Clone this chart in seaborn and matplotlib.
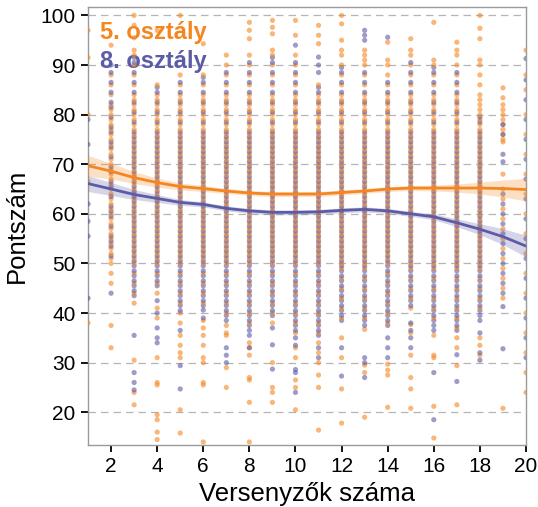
import matplotlib
matplotlib.use("Agg")
import matplotlib.pyplot as plt
import numpy as np
import pandas as pd
import seaborn as sns

# Number of competitors (x categories)
competitors = [1, 2, 3, 4, 5, 6, 7, 8, 9, 10, 11, 12, 13, 14, 15, 16, 17, 18, 19, 20]

# Scores of 5th graders, one list per number of competitors
grade5_scores = [
    [38, 66.5, 80, 91.5, 97],
    [33, 37.5, 46, 48, 50, 51, 52, 53, 54, 55, 56, 57, 58, 59, 60, 61, 62, 63, 64, 65, 66, 67, 68, 69, 70, 71, 72, 73, 74, 75, 76, 77, 78, 79, 80, 81, 82, 84, 86, 88, 94],
    [21.5, 24, 30.5, 42, 44, 46, 48, 50, 51, 52, 53, 54, 55, 56, 57, 58, 59, 60, 61, 62, 63, 64, 65, 66, 67, 68, 69, 70, 71, 72, 73, 74, 75, 76, 77, 78, 79, 80, 81, 82, 83, 84, 86, 88, 90, 92, 93, 95.5, 98, 100],
    [14.5, 16, 18.5, 19.5, 25.5, 26, 31, 39, 41, 44, 46, 48, 50, 51, 52, 53, 54, 55, 56, 57, 58, 59, 60, 61, 62, 63, 64, 65, 66, 67, 68, 69, 70, 71, 72, 73, 74, 75, 76, 77, 78, 79, 80, 81, 82, 83, 84, 86, 97],
    [15.8, 20.5, 31, 32, 33.5, 35.5, 38, 40, 42, 44, 46, 48, 50, 51, 52, 53, 54, 55, 56, 57, 58, 59, 60, 61, 62, 63, 64, 65, 66, 67, 68, 69, 70, 71, 72, 73, 74, 75, 76, 77, 78, 79, 80, 81, 82, 83, 84, 86, 88, 100],
    [14, 25.5, 26, 30, 31, 33.5, 35.5, 37, 38.5, 42, 44, 46, 48, 50, 51, 52, 53, 54, 55, 56, 57, 58, 59, 60, 61, 62, 63, 64, 65, 66, 67, 68, 69, 70, 71, 72, 73, 74, 75, 76, 77, 78, 79, 80, 81, 82, 83, 84, 86, 88, 94.3],
    [25, 29, 35.5, 36, 37.5, 40, 42, 44, 46, 48, 50, 51, 52, 53, 54, 55, 56, 57, 58, 59, 60, 61, 62, 63, 64, 65, 66, 67, 68, 69, 70, 71, 72, 73, 74, 75, 76, 77, 78, 79, 80, 81, 82, 83, 84, 86, 88, 90, 92],
    [14, 22, 26.5, 27, 31.5, 33, 34, 38, 40, 42, 44, 46, 48, 50, 51, 52, 53, 54, 55, 56, 57, 58, 59, 60, 61, 62, 63, 64, 65, 66, 67, 68, 69, 70, 71, 72, 73, 74, 75, 76, 77, 78, 79, 80, 81, 82, 83, 84, 86, 88, 90, 92, 95.3, 97, 98.6],
    [22, 24, 25, 30, 38, 40, 42, 44, 46, 48, 50, 51, 52, 53, 54, 55, 56, 57, 58, 59, 60, 61, 62, 63, 64, 65, 66, 67, 68, 69, 70, 71, 72, 73, 74, 75, 76, 77, 78, 79, 80, 81, 82, 83, 84, 86, 88, 90, 92, 93, 96.3, 97.6, 99],
    [20.5, 25, 26.5, 31, 33, 36, 38, 40, 42, 44, 46, 48, 50, 51, 52, 53, 54, 55, 56, 57, 58, 59, 60, 61, 62, 63, 64, 65, 66, 67, 68, 69, 70, 71, 72, 73, 74, 75, 76, 77, 78, 79, 80, 81, 82, 83, 84, 86, 88, 90, 92, 96, 99],
    [16.4, 25, 27.5, 30, 32, 34, 36, 38, 40, 42, 44, 46, 48, 50, 51, 52, 53, 54, 55, 56, 57, 58, 59, 60, 61, 62, 63, 64, 65, 66, 67, 68, 69, 70, 71, 72, 73, 74, 75, 76, 77, 78, 79, 80, 81, 82, 83, 84, 86, 94.3, 96, 98],
    [17.8, 24.7, 31, 35, 39, 41, 43, 45, 47, 49, 50, 51, 52, 53, 54, 55, 56, 57, 58, 59, 60, 61, 62, 63, 64, 65, 66, 67, 68, 69, 70, 71, 72, 73, 74, 75, 76, 77, 78, 79, 80, 81, 82, 83, 84, 86, 88, 90, 92, 93, 95, 98.3, 100],
    [19, 28, 29.5, 36.7, 39, 41, 43, 45, 47, 49, 50, 51, 52, 53, 54, 55, 56, 57, 58, 59, 60, 61, 62, 63, 64, 65, 66, 67, 68, 69, 70, 71, 72, 73, 74, 75, 76, 77, 78, 79, 80, 81, 82, 83, 84, 86, 88, 90, 91, 92, 93],
    [21, 27.5, 28.5, 29.7, 38, 40, 42, 44, 46, 48, 50, 51, 52, 53, 54, 55, 56, 57, 58, 59, 60, 61, 62, 63, 64, 65, 66, 67, 68, 69, 70, 71, 72, 73, 74, 75, 76, 77, 78, 79, 80, 81, 82, 83, 84, 86, 88, 90, 91, 94.6],
    [20.8, 24.7, 27, 31.5, 36, 37.7, 41, 43, 45, 47, 49, 50, 51, 52, 53, 54, 55, 56, 57, 58, 59, 60, 61, 62, 63, 64, 65, 66, 67, 68, 69, 70, 71, 72, 73, 74, 75, 76, 77, 78, 79, 80, 81, 82, 83, 84, 86, 88, 90, 92, 93, 95.3],
    [14.8, 21.2, 31, 31.5, 35.5, 39, 41, 43, 45, 47, 49, 50, 51, 52, 53, 54, 55, 56, 57, 58, 59, 60, 61, 62, 63, 64, 65, 66, 67, 68, 69, 70, 71, 72, 73, 74, 75, 76, 77, 78, 79, 80, 81, 82, 83, 84, 86, 88, 90, 91, 98.6],
    [21.5, 29.4, 33, 35, 37, 39, 41, 43, 45, 47, 49, 50, 51, 52, 53, 54, 55, 56, 57, 58, 59, 60, 61, 62, 63, 64, 65, 66, 67, 68, 69, 70, 71, 72, 73, 74, 75, 76, 77, 78, 79, 80, 81, 82, 83, 84, 86, 88, 90, 92, 93, 94.6],
    [31.5, 33.5, 35, 41, 43, 45, 47, 49, 50, 51, 52, 53, 54, 55, 56, 57, 58, 59, 60, 61, 62, 63, 64, 65, 66, 67, 68, 69, 70, 71, 72, 73, 74, 75, 76, 77, 78, 79, 80, 81, 82, 83, 84, 86, 88, 90, 91, 95.3, 97.4, 100],
    [20.8, 43, 45, 47, 49, 51, 53, 55, 57, 59, 61, 63, 65, 68, 74.5, 75, 76, 77, 78, 79, 80, 81, 82, 83.4, 85.4],
    [24, 28, 32, 36, 40, 44, 48, 52, 56, 60, 64, 68, 72, 76, 80, 85, 88, 93],
]

# Scores of 8th graders, one list per number of competitors
grade8_scores = [
    [43, 55.5, 58.5, 62, 74, 79],
    [44, 51.5, 53.5, 54.5, 55.5, 57.5, 59.5, 60.5, 61.5, 63.5, 65.5, 66.5, 68.5, 69.5, 71.5, 73.5, 74.5, 76.5, 77.5, 79.5, 81.5, 82.5, 84.5, 86.5, 88.5, 90],
    [24.5, 26, 28, 35.5, 43.5, 44.5, 45.5, 46.5, 47.5, 48.5, 49.5, 50.5, 51.5, 52.5, 53.5, 54.5, 55.5, 56.5, 57.5, 58.5, 59.5, 60.5, 61.5, 62.5, 63.5, 64.5, 65.5, 66.5, 67.5, 68.5, 69.5, 70.5, 71.5, 72.5, 73.5, 74.5, 75.5, 76.5, 78.5, 80.5, 82.5, 84.5, 86.5, 88.5, 90.5, 91.5],
    [34, 35, 37, 40, 42.5, 45.5, 46.5, 47.5, 48.5, 49.5, 50.5, 51.5, 52.5, 53.5, 54.5, 55.5, 56.5, 57.5, 58.5, 59.5, 60.5, 61.5, 62.5, 63.5, 64.5, 65.5, 66.5, 67.5, 68.5, 69.5, 70.5, 71.5, 72.5, 73.5, 74.5, 75.5, 76.5, 78.5, 80.5, 82.5, 84.5, 85.5],
    [24.7, 29.4, 36.5, 40.5, 41.5, 42.5, 43.5, 44.5, 45.5, 46.5, 47.5, 48.5, 49.5, 50.5, 51.5, 52.5, 53.5, 54.5, 55.5, 56.5, 57.5, 58.5, 59.5, 60.5, 61.5, 62.5, 63.5, 64.5, 65.5, 66.5, 67.5, 68.5, 69.5, 70.5, 71.5, 72.5, 73.5, 74.5, 75.5, 76.5, 78.5, 80.5, 82.5, 84.5, 86.5],
    [39, 40.6, 41.5, 42.5, 43.5, 44.5, 45.5, 46.5, 47.5, 48.5, 49.5, 50.5, 51.5, 52.5, 53.5, 54.5, 55.5, 56.5, 57.5, 58.5, 59.5, 60.5, 61.5, 62.5, 63.5, 64.5, 65.5, 66.5, 67.5, 68.5, 69.5, 70.5, 71.5, 72.5, 73.5, 74.5, 75.5, 76.5, 78.5, 80.5, 82.5, 84.5, 86.5, 87.5],
    [30, 31.5, 33, 38.5, 39.5, 40.5, 41.5, 42.5, 43.5, 44.5, 45.5, 46.5, 47.5, 48.5, 49.5, 50.5, 51.5, 52.5, 53.5, 54.5, 55.5, 56.5, 57.5, 58.5, 59.5, 60.5, 61.5, 62.5, 63.5, 64.5, 65.5, 66.5, 67.5, 68.5, 69.5, 70.5, 71.5, 72.5, 73.5, 74.5, 75.5, 76.5, 78.5, 80.5, 82.5, 84.5, 86.5, 88.5],
    [33, 35.5, 36.5, 37.5, 38.5, 39.5, 40.5, 41.5, 42.5, 43.5, 44.5, 45.5, 46.5, 47.5, 48.5, 49.5, 50.5, 51.5, 52.5, 53.5, 54.5, 55.5, 56.5, 57.5, 58.5, 59.5, 60.5, 61.5, 62.5, 63.5, 64.5, 65.5, 66.5, 67.5, 68.5, 69.5, 70.5, 71.5, 72.5, 73.5, 74.5, 75.5, 76.5, 78.5, 80.5, 82.5, 84.5, 86.5, 88.5, 90.5],
    [28.7, 33.6, 37, 39.5, 40.5, 41.5, 42.5, 43.5, 44.5, 45.5, 46.5, 47.5, 48.5, 49.5, 50.5, 51.5, 52.5, 53.5, 54.5, 55.5, 56.5, 57.5, 58.5, 59.5, 60.5, 61.5, 62.5, 63.5, 64.5, 65.5, 66.5, 67.5, 68.5, 69.5, 70.5, 71.5, 72.5, 73.5, 74.5, 75.5, 76.5, 78.5, 80.5, 82.5, 84.5, 86.5, 88.5, 90.5, 91.5],
    [24, 28, 28.6, 33.5, 35, 36.5, 37.5, 38.5, 39.5, 40.5, 41.5, 42.5, 43.5, 44.5, 45.5, 46.5, 47.5, 48.5, 49.5, 50.5, 51.5, 52.5, 53.5, 54.5, 55.5, 56.5, 57.5, 58.5, 59.5, 60.5, 61.5, 62.5, 63.5, 64.5, 65.5, 66.5, 67.5, 68.5, 69.5, 70.5, 71.5, 72.5, 73.5, 74.5, 75.5, 76.5, 78.5, 80.5, 82.5, 84.5, 86.5, 88.5, 90.5, 94],
    [31, 33, 35.5, 36.5, 37.5, 38.5, 39.5, 40.5, 41.5, 42.5, 43.5, 44.5, 45.5, 46.5, 47.5, 48.5, 49.5, 50.5, 51.5, 52.5, 53.5, 54.5, 55.5, 56.5, 57.5, 58.5, 59.5, 60.5, 61.5, 62.5, 63.5, 64.5, 65.5, 66.5, 67.5, 68.5, 69.5, 70.5, 71.5, 72.5, 73.5, 74.5, 75.5, 76.5, 78.5, 80.5, 82.5, 84.5, 85.5, 88.5, 90, 91.6],
    [27.3, 33, 38.5, 39.5, 40.5, 41.5, 42.5, 43.5, 44.5, 45.5, 46.5, 47.5, 48.5, 49.5, 50.5, 51.5, 52.5, 53.5, 54.5, 55.5, 56.5, 57.5, 58.5, 59.5, 60.5, 61.5, 62.5, 63.5, 64.5, 65.5, 66.5, 67.5, 68.5, 69.5, 70.5, 71.5, 72.5, 73.5, 74.5, 75.5, 76.5, 78.5, 80.5, 82.5, 84.5, 86.5, 88.5, 89.5],
    [27, 30, 31, 37.5, 38.5, 39.5, 40.5, 41.5, 42.5, 43.5, 44.5, 45.5, 46.5, 47.5, 48.5, 49.5, 50.5, 51.5, 52.5, 53.5, 54.5, 55.5, 56.5, 57.5, 58.5, 59.5, 60.5, 61.5, 62.5, 63.5, 64.5, 65.5, 66.5, 67.5, 68.5, 69.5, 70.5, 71.5, 72.5, 73.5, 74.5, 75.5, 76.5, 78.5, 80.5, 82.5, 84.5, 86.5, 88.5, 95, 96, 97],
    [31, 33, 35, 37.5, 38.5, 39.5, 40.5, 41.5, 42.5, 43.5, 44.5, 45.5, 46.5, 47.5, 48.5, 49.5, 50.5, 51.5, 52.5, 53.5, 54.5, 55.5, 56.5, 57.5, 58.5, 59.5, 60.5, 61.5, 62.5, 63.5, 64.5, 65.5, 66.5, 67.5, 68.5, 69.5, 70.5, 71.5, 72.5, 73.5, 74.5, 75.5, 76.5, 78.5, 80.5, 82.5, 84.5, 86.5, 95.6],
    [33, 35, 36.5, 38, 41.5, 42.5, 43.5, 44.5, 45.5, 46.5, 47.5, 48.5, 49.5, 50.5, 51.5, 52.5, 53.5, 54.5, 55.5, 56.5, 57.5, 58.5, 59.5, 60.5, 61.5, 62.5, 63.5, 64.5, 65.5, 66.5, 67.5, 68.5, 69.5, 70.5, 71.5, 72.5, 73.5, 74.5, 75.5, 76.5, 78.5, 80.5, 82.5, 84.5, 86.5, 88.5, 90.5],
    [18.5, 28, 36.5, 37.5, 38.5, 39.5, 40.5, 41.5, 42.5, 43.5, 44.5, 45.5, 46.5, 47.5, 48.5, 49.5, 50.5, 51.5, 52.5, 53.5, 54.5, 55.5, 56.5, 57.5, 58.5, 59.5, 60.5, 61.5, 62.5, 63.5, 64.5, 65.5, 66.5, 67.5, 68.5, 69.5, 70.5, 71.5, 72.5, 73.5, 74.5, 75.5, 76.5, 78.5, 80.5, 82.5, 84.5, 86.5, 88.5, 89.5],
    [26.2, 31.6, 36.5, 37.5, 38.5, 39.5, 40.5, 41.5, 42.5, 43.5, 44.5, 45.5, 46.5, 47.5, 48.5, 49.5, 50.5, 51.5, 52.5, 53.5, 54.5, 55.5, 56.5, 57.5, 58.5, 59.5, 60.5, 61.5, 62.5, 63.5, 64.5, 65.5, 66.5, 67.5, 68.5, 69.5, 70.5, 71.5, 72.5, 73.5, 74.5, 75.5, 76.5, 78.5, 80.5, 82.5, 84.5, 86.5, 88.5],
    [30.5, 32, 36, 38.5, 39.5, 40.5, 41.5, 42.5, 43.5, 44.5, 45.5, 46.5, 47.5, 48.5, 49.5, 50.5, 51.5, 52.5, 53.5, 54.5, 55.5, 56.5, 57.5, 58.5, 59.5, 60.5, 61.5, 62.5, 63.5, 64.5, 65.5, 66.5, 67.5, 68.5, 69.5, 70.5, 71.5, 72.5, 73.5, 74.5, 75.5, 76.5, 78.5, 79.5],
    [32.8, 41.3, 44, 46, 48, 50, 52, 54, 56, 58, 60, 62, 64, 70.5, 72, 76, 78],
    [31, 35, 39, 43, 47, 51, 55, 59, 63, 67, 71, 75, 79, 83, 87, 91.3],
]

# Smoothed trend (fitted mean) and half-width of its confidence band
grade5_fit = [69.7, 68.6, 67.3, 66.3, 65.5, 65.1, 64.6, 64.2, 64.0, 64.0, 64.0, 64.3, 64.6, 65.0, 65.2, 65.2, 65.2, 65.2, 65.1, 64.9]
grade5_ci = [2.1, 1.6, 1.2, 0.9, 0.7, 0.6, 0.5, 0.5, 0.5, 0.5, 0.5, 0.5, 0.5, 0.5, 0.5, 0.6, 0.8, 1.2, 1.7, 2.3]
grade8_fit = [66.1, 65.0, 63.9, 63.1, 62.3, 61.9, 61.1, 60.6, 60.3, 60.3, 60.4, 60.7, 60.9, 60.6, 60.0, 59.4, 58.2, 56.9, 55.4, 53.5]
grade8_ci = [1.6, 1.3, 1.0, 0.8, 0.6, 0.5, 0.5, 0.5, 0.5, 0.5, 0.5, 0.5, 0.5, 0.5, 0.5, 0.6, 0.8, 1.1, 1.6, 2.2]

grade_labels = ["5. osztály", "8. osztály"]
x_ticks = [2, 4, 6, 8, 10, 12, 14, 16, 18, 20]
y_ticks = [20, 30, 40, 50, 60, 70, 80, 90, 100]

ORANGE = "#F5861F"
PURPLE = "#5C5BA6"

rows = []
for label, per_x in zip(grade_labels, [grade5_scores, grade8_scores]):
    for n, scores in zip(competitors, per_x):
        for s in scores:
            rows.append({"n": n, "score": s, "grade": label})
# Draw points ordered by score so the two grades interleave within a column
points = pd.DataFrame(rows).sort_values(["n", "score"], kind="stable").reset_index(drop=True)

sns.set_theme(style="white")
plt.rcParams["font.family"] = ["Liberation Sans", "DejaVu Sans"]

fig = plt.figure(figsize=(5.38, 5.07), dpi=100)
ax = fig.add_axes([0.1636, 0.1223, 0.8141, 0.8639])

sns.scatterplot(data=points, x="n", y="score", hue="grade",
                palette={grade_labels[0]: ORANGE, grade_labels[1]: PURPLE},
                s=14, alpha=0.6, linewidth=0, legend=False, ax=ax, zorder=3)

for fit, ci, col in [(grade5_fit, grade5_ci, ORANGE), (grade8_fit, grade8_ci, PURPLE)]:
    f = np.array(fit)
    c = np.array(ci)
    ax.fill_between(competitors, f - c, f + c, color=col, alpha=0.25, linewidth=0, zorder=4)
    sns.lineplot(x=competitors, y=fit, color=col, linewidth=2.0, ax=ax, zorder=5)

ax.set_xlim(1, 20)
ax.set_ylim(13.4, 101.7)
ax.set_xticks(x_ticks)
ax.set_yticks(y_ticks)
ax.tick_params(axis="both", which="major", length=5, width=1.3, color="black",
               labelsize=15, labelcolor="black", bottom=True, left=True, pad=4)

ax.yaxis.grid(True, linestyle=(0, (6, 4)), color="#b5b5b5", linewidth=0.9)
ax.xaxis.grid(False)
ax.set_axisbelow(True)
for side in ["left", "right", "top", "bottom"]:
    ax.spines[side].set_color("#9a9a9a")
    ax.spines[side].set_linewidth(1.0)

ax.set_xlabel("Versenyzők száma", fontsize=18.5, color="black", labelpad=4)
ax.set_ylabel("Pontszám", fontsize=18.5, color="black", labelpad=8)

ax.text(1.53, 95.2, grade_labels[0], color=ORANGE, fontsize=17, fontweight="bold",
        ha="left", va="baseline", zorder=2)
ax.text(1.53, 89.5, grade_labels[1], color=PURPLE, fontsize=17, fontweight="bold",
        ha="left", va="baseline", zorder=2)

fig.savefig("out.png", dpi=100)
